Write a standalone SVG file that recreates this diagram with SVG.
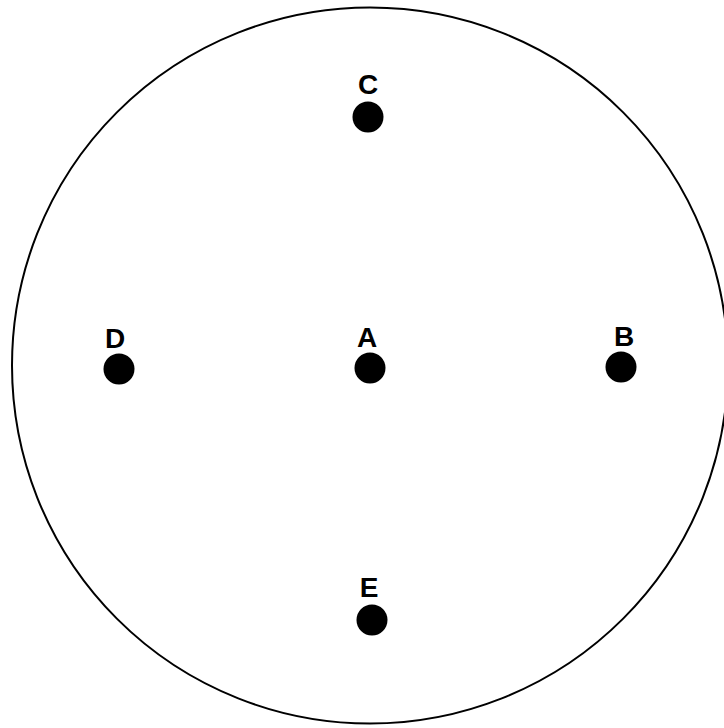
<svg xmlns="http://www.w3.org/2000/svg" width="724" height="728" viewBox="0 0 724 728">
<style>
.lbl{font-family:"Liberation Sans",Arial,sans-serif;font-weight:bold;font-size:28px;fill:#000;text-anchor:middle}
.dot{fill:#000}
</style>
<rect width="724" height="728" fill="#fff"/>
<g id="boundary"><circle cx="370" cy="365.5" r="358" fill="none" stroke="#000" stroke-width="2"/></g>
<g id="connectors"></g>
<g id="node-C"><text class="lbl" x="368" y="94">C</text><circle class="dot" cx="368" cy="117" r="15.5"/></g>
<g id="node-D"><text class="lbl" x="115" y="348">D</text><circle class="dot" cx="119" cy="369" r="15.5"/></g>
<g id="node-A"><text class="lbl" x="367" y="347">A</text><circle class="dot" cx="370" cy="368" r="15.5"/></g>
<g id="node-B"><text class="lbl" x="624" y="346">B</text><circle class="dot" cx="621" cy="367" r="15.5"/></g>
<g id="node-E"><text class="lbl" x="369" y="597">E</text><circle class="dot" cx="372" cy="620" r="15.5"/></g>
</svg>
